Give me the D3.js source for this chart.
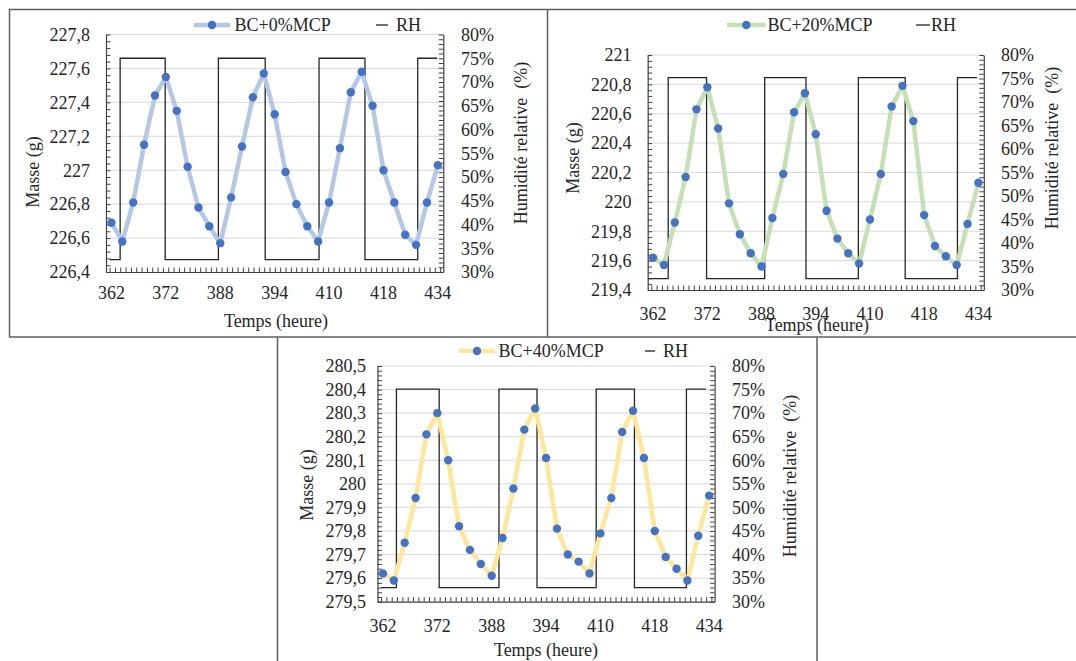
<!DOCTYPE html>
<html>
<head>
<meta charset="utf-8">
<script src="https://cdn.jsdelivr.net/npm/d3@7"></script>
<style>
  html, body { margin: 0; padding: 0; background: #fff; }
  svg { display: block; }
  text { font-family: "Liberation Serif", "Times New Roman", serif; fill: #262626; }
</style>
</head>
<body>
<svg id="chart" width="1076" height="661"></svg>
<script>
// ---------- DATA ----------
const xTickLabels = ["362", "372", "388", "394", "410", "418", "434"];
const xTickIndex  = [0, 5, 10, 15, 20, 25, 30];
const categoryCount = 31;

const seriesNames = ["BC+0%MCP", "BC+20%MCP", "BC+40%MCP"];

const masse0 = [226.69, 226.58, 226.81, 227.15, 227.44, 227.55, 227.35, 227.02, 226.78, 226.67,
                226.57, 226.84, 227.14, 227.43, 227.57, 227.33, 226.99, 226.80, 226.67, 226.58,
                226.81, 227.13, 227.46, 227.58, 227.38, 227.00, 226.81, 226.62, 226.56, 226.81, 227.03];
const masse20 = [219.62, 219.57, 219.86, 220.17, 220.63, 220.78, 220.50, 219.99, 219.78, 219.65,
                 219.56, 219.89, 220.19, 220.61, 220.74, 220.46, 219.94, 219.75, 219.65, 219.58,
                 219.88, 220.19, 220.65, 220.79, 220.55, 219.91, 219.70, 219.63, 219.57, 219.85, 220.13];
const masse40 = [279.62, 279.59, 279.75, 279.94, 280.21, 280.30, 280.10, 279.82, 279.72, 279.66,
                 279.61, 279.77, 279.98, 280.23, 280.32, 280.11, 279.81, 279.70, 279.67, 279.62,
                 279.79, 279.94, 280.22, 280.31, 280.11, 279.80, 279.69, 279.64, 279.59, 279.78, 279.95];

// RH square signal: switching times (in category units) and levels (%)
const rhTime0  = [-0.16, 0.80, 4.94, 9.83, 14.13, 19.08, 23.30, 28.15, 29.93];
const rhValue0 = [32.6, 75, 32.6, 75, 32.6, 75, 32.6, 75, 75];
const rhTime20  = [-0.47, 1.39, 4.93, 10.29, 14.10, 18.93, 23.25, 28.07, 29.87];
const rhValue20 = [32.4, 75.2, 32.4, 75.2, 32.4, 75.2, 32.4, 75.2, 75.2];
const rhTime40  = [-0.16, 1.24, 5.17, 10.67, 14.17, 19.61, 23.13, 27.91, 29.71];
const rhValue40 = [33.0, 75.1, 33.0, 75.1, 33.0, 75.1, 33.0, 75.1, 75.1];

const massDomain0 = [226.4, 227.8], massStep0 = 0.2;
const massDomain20 = [219.4, 221.0], massStep20 = 0.2;
const massDomain40 = [279.5, 280.5], massStep40 = 0.1;
const rhDomain = [30, 80], rhStep = 5;

const lineColors = ["#b4c7e7", "#c5e0b4", "#ffe699"];
const markerColor = "#4472c4";

// ---------- LAYOUT ----------
const panels = [
  { name: seriesNames[0], values: masse0, rhT: rhTime0, rhV: rhValue0, dom: massDomain0, step: massStep0, color: lineColors[0],
    left: 106, right: 443.3, top: 34.5, bottom: 272,
    yLabEnd: 90, rLabStart: 461, yTitle: [33, 172], rTitle: [521, 143], xLabY: 299, xTitleY: 327, xTitleX: 276,
    legY: 25, legLine: [194, 230], legText: 234.5, rhDash: [376, 388], rhText: 396 },
  { name: seriesNames[1], values: masse20, rhT: rhTime20, rhV: rhValue20, dom: massDomain20, step: massStep20, color: lineColors[1],
    left: 647.7, right: 983.8, top: 55, bottom: 290,
    yLabEnd: 631.6, rLabStart: 1001, yTitle: [572.5, 158], rTitle: [1052, 148], xLabY: 319.5, xTitleY: 331, xTitleX: 817,
    legY: 25, legLine: [727, 765.6], legText: 767.4, rhDash: [916, 930], rhText: 931 },
  { name: seriesNames[2], values: masse40, rhT: rhTime40, rhV: rhValue40, dom: massDomain40, step: massStep40, color: lineColors[2],
    left: 377.5, right: 714.6, top: 366, bottom: 601.7,
    yLabEnd: 366, rLabStart: 732, yTitle: [307, 485], rTitle: [790, 476], xLabY: 631.5, xTitleY: 655.5, xTitleX: 546,
    legY: 351, legLine: [459, 495], legText: 498.5, rhDash: [645, 655], rhText: 663 }
];

const svg = d3.select("#chart");

// frame lines (table borders)
const frame = svg.append("g").attr("stroke", "#5f5f5f").attr("stroke-width", 1.5).attr("fill", "none");
[[9, 9.5, 1076, 9.5], [9.5, 9, 9.5, 337], [547.5, 9, 547.5, 337], [9, 337, 1076, 337],
 [277.5, 337, 277.5, 661], [817, 337, 817, 661]].forEach(l =>
  frame.append("line").attr("x1", l[0]).attr("y1", l[1]).attr("x2", l[2]).attr("y2", l[3]));

const fmtMass = v => (+v.toFixed(1)).toString().replace(".", ",");
const fmtPct = v => Math.round(v) + "%";

panels.forEach(p => {
  const g = svg.append("g");
  const x = d3.scaleLinear().domain([-0.5, categoryCount - 0.5]).range([p.left, p.right]);
  const y = d3.scaleLinear().domain(p.dom).range([p.bottom, p.top]);
  const yR = d3.scaleLinear().domain(rhDomain).range([p.bottom, p.top]);

  const nMaj = Math.round((p.dom[1] - p.dom[0]) / p.step);
  const majors = d3.range(nMaj + 1).map(k => p.dom[0] + k * p.step);
  const minors = d3.range(nMaj * 5 + 1).map(k => p.dom[0] + k * p.step / 5);
  const rMajors = d3.range(11).map(k => rhDomain[0] + k * rhStep);
  const rMinors = d3.range(51).map(k => rhDomain[0] + k * 1);

  // gridlines
  g.append("g").selectAll("line").data(majors.slice(1)).join("line")
    .attr("x1", p.left).attr("x2", p.right)
    .attr("y1", d => y(d)).attr("y2", d => y(d))
    .attr("stroke", "#d9d9d9").attr("stroke-width", 1);

  // axes (minor inward ticks)
  const axL = g.append("g").attr("transform", `translate(${p.left},0)`)
    .call(d3.axisLeft(y).tickValues(minors).tickSize(-4.5).tickSizeOuter(0).tickFormat(""));
  const axR = g.append("g").attr("transform", `translate(${p.right},0)`)
    .call(d3.axisRight(yR).tickValues(rMinors).tickSize(-4.5).tickSizeOuter(0).tickFormat(""));
  const xMinor = d3.range(63).map(k => -0.17 + k * 0.49);
  const axB = g.append("g").attr("transform", `translate(0,${p.bottom})`)
    .call(d3.axisBottom(x).tickValues(xMinor).tickSize(-4.5).tickSizeOuter(0).tickFormat(""));
  [axL, axR, axB].forEach(a => {
    a.selectAll("path").attr("stroke", "#404040").attr("stroke-width", 1.2);
    a.selectAll("line").attr("stroke", "#404040").attr("stroke-width", 1);
  });

  // tick labels
  g.append("g").selectAll("text").data(majors).join("text")
    .attr("x", p.yLabEnd).attr("y", d => y(d)).attr("dy", "0.35em")
    .attr("text-anchor", "end").attr("font-size", 18).text(fmtMass);
  g.append("g").selectAll("text").data(rMajors).join("text")
    .attr("x", p.rLabStart).attr("y", d => yR(d)).attr("dy", "0.35em")
    .attr("text-anchor", "start").attr("font-size", 18).text(fmtPct);
  g.append("g").selectAll("text").data(xTickIndex).join("text")
    .attr("x", d => x(d)).attr("y", p.xLabY)
    .attr("text-anchor", "middle").attr("font-size", 18).text((d, i) => xTickLabels[i]);

  // axis titles
  g.append("text").attr("transform", `translate(${p.yTitle[0]},${p.yTitle[1]}) rotate(-90)`)
    .attr("text-anchor", "middle").attr("dy", "0.35em").attr("font-size", 18).text("Masse (g)");
  g.append("text").attr("transform", `translate(${p.rTitle[0]},${p.rTitle[1]}) rotate(-90)`)
    .attr("text-anchor", "middle").attr("dy", "0.35em").attr("font-size", 18)
    .attr("xml:space", "preserve").style("white-space", "pre").text("Humidité relative  (%)");
  g.append("text").attr("x", p.xTitleX).attr("y", p.xTitleY)
    .attr("text-anchor", "middle").attr("font-size", 18).text("Temps (heure)");

  // RH square wave
  const rhData = p.rhT.map((t, i) => [t, p.rhV[i]]);
  g.append("path").datum(rhData)
    .attr("d", d3.line().x(d => x(d[0])).y(d => yR(d[1])).curve(d3.curveStepAfter))
    .attr("fill", "none").attr("stroke", "#262626").attr("stroke-width", 1.3);

  // mass series
  g.append("path").datum(p.values)
    .attr("d", d3.line().x((d, i) => x(i)).y(d => y(d)))
    .attr("fill", "none").attr("stroke", p.color).attr("stroke-width", 4.5)
    .attr("stroke-linejoin", "round").attr("stroke-linecap", "round");
  g.append("g").selectAll("circle").data(p.values).join("circle")
    .attr("cx", (d, i) => x(i)).attr("cy", d => y(d)).attr("r", 4.2)
    .attr("fill", markerColor);

  // legend
  const lg = g.append("g");
  lg.append("line").attr("x1", p.legLine[0]).attr("x2", p.legLine[1])
    .attr("y1", p.legY).attr("y2", p.legY)
    .attr("stroke", p.color).attr("stroke-width", 4.5);
  lg.append("circle").attr("cx", (p.legLine[0] + p.legLine[1]) / 2).attr("cy", p.legY).attr("r", 4.2)
    .attr("fill", markerColor);
  lg.append("text").attr("x", p.legText).attr("y", p.legY).attr("dy", "0.35em")
    .attr("font-size", 18).text(p.name);
  lg.append("line").attr("x1", p.rhDash[0]).attr("x2", p.rhDash[1])
    .attr("y1", p.legY).attr("y2", p.legY)
    .attr("stroke", "#262626").attr("stroke-width", 1.3);
  lg.append("text").attr("x", p.rhText).attr("y", p.legY).attr("dy", "0.35em")
    .attr("font-size", 18).text("RH");
});
</script>
</body>
</html>
